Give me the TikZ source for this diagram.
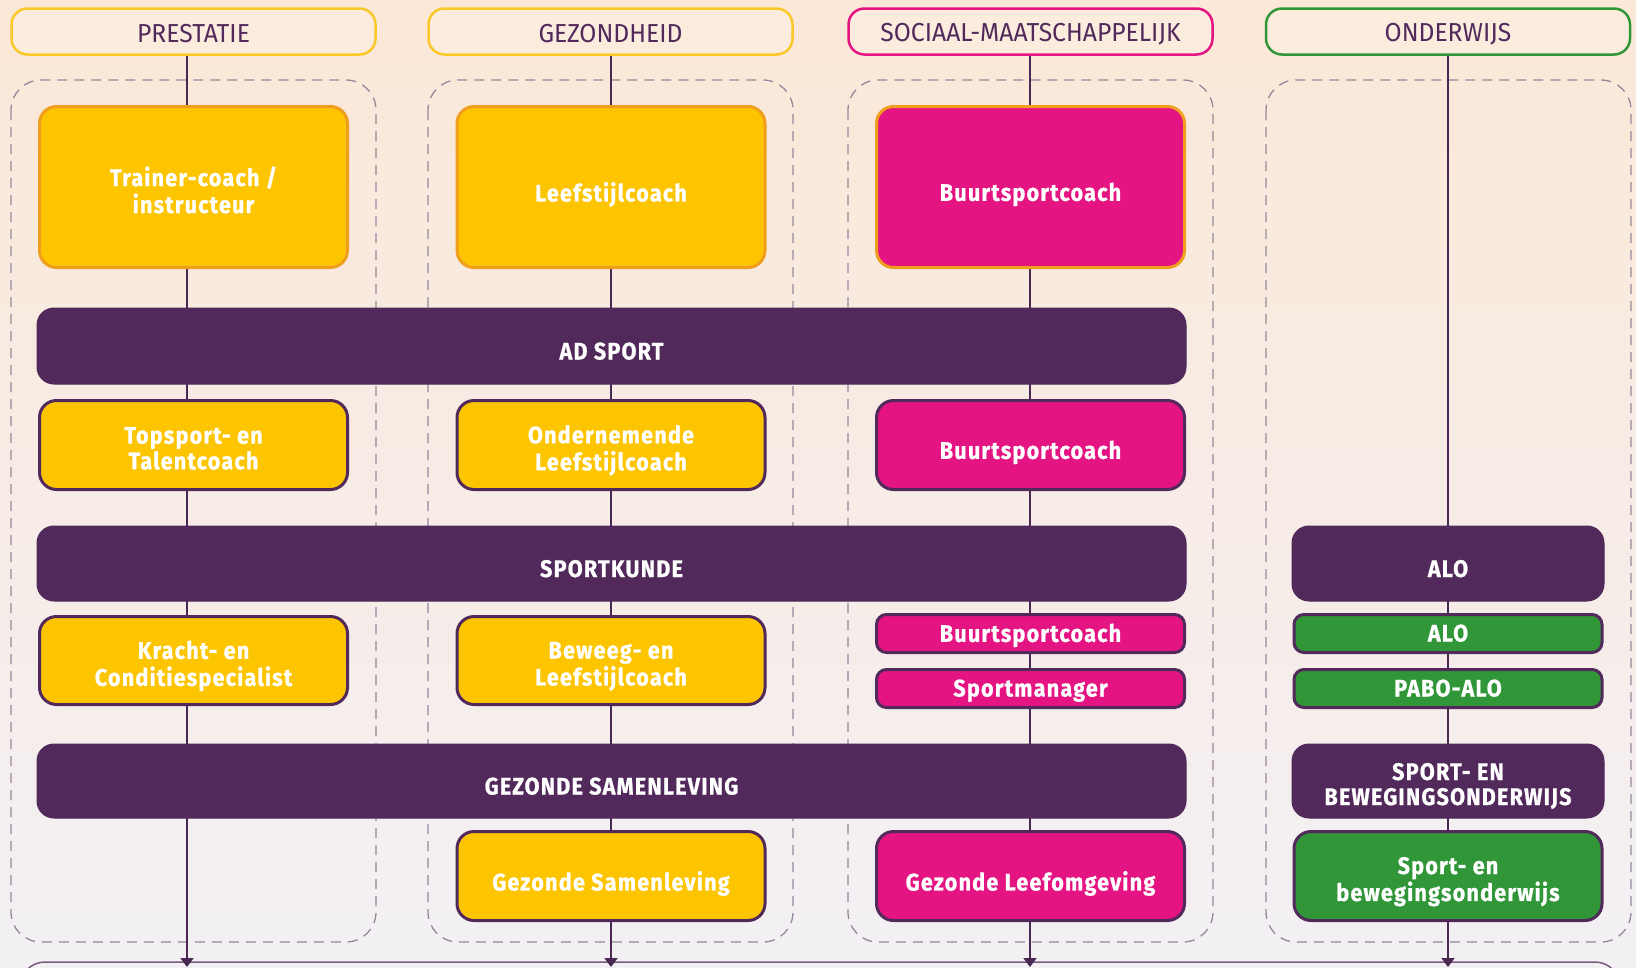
\documentclass[tikz,border=0pt]{standalone}
\usepackage{fontspec}
\usetikzlibrary{arrows.meta}
\newfontfamily\boxfont{Fira Sans}[FakeStretch=0.9,LetterSpace=5,BoldFeatures={FakeBold=0.8}]
\newfontfamily\hdrfont{Fira Sans}[FakeStretch=0.95]
\newcommand\boxtxt[2][17]{\vbox{\kern#1pt\hbox{\begin{tabular}{@{}c@{}}#2\end{tabular}}}}
\newcommand\hdrtxt[1]{\vbox{\kern5pt\hbox{#1}}}
\definecolor{bgtop}{RGB}{251,232,215}
\definecolor{bgbot}{RGB}{243,240,244}
\definecolor{hdrbg}{RGB}{252,236,222}
\definecolor{pur}{RGB}{81,41,90}
\definecolor{linec}{RGB}{74,40,84}
\definecolor{yel}{RGB}{253,196,0}
\definecolor{org}{RGB}{240,158,30}
\definecolor{mag}{RGB}{228,21,130}
\definecolor{grn}{RGB}{48,150,56}
\definecolor{hyel}{RGB}{250,200,40}
\definecolor{dashc}{RGB}{150,135,155}
\definecolor{botc}{RGB}{120,90,125}
\tikzset{
  hdr/.style={draw, line width=2.5pt, rounded corners=16pt, fill=hdrbg,
    minimum width=364, minimum height=46, inner sep=0pt, text=pur,
    font=\hdrfont\fontsize{26}{26}\selectfont},
  dashbox/.style={draw=dashc, line width=1.3pt, dash pattern=on 10pt off 7pt, rounded corners=30pt},
  box/.style={line width=3pt, rounded corners=17pt, minimum width=308, inner sep=0pt,
    text=white, font=\boxfont\bfseries\fontsize{24}{25}\selectfont},
  ybox/.style={box, fill=yel, draw=pur},
  yboxo/.style={box, fill=yel, draw=org},
  mbox/.style={box, fill=mag, draw=pur},
  mboxo/.style={box, fill=mag, draw=org},
  gbox/.style={box, fill=grn, draw=pur},
  smallbox/.style={rounded corners=10pt, minimum height=38},
  bar/.style={box, fill=pur, draw=pur, line width=1pt},
  vline/.style={draw=linec, line width=1.8pt},
  vlinea/.style={vline, -{Triangle[length=9pt,width=13pt]}},
}
\begin{document}
\begin{tikzpicture}[x=1pt,y=-1pt]
\useasboundingbox (0,0) rectangle (1636,967);
\shade[top color=bgtop, bottom color=bgbot] (0,0) rectangle (1636,967);
% dashed column frames
\draw[dashbox] (11,80) rectangle (376,942);
\draw[dashbox] (428,80) rectangle (793,942);
\draw[dashbox] (848,80) rectangle (1213,942);
\draw[dashbox] (1266,80) rectangle (1631,942);
% bottom frame
\draw[draw=botc, line width=1.5pt, rounded corners=25pt] (20,1010) -- (20,962) -- (1620,962) -- (1620,1010);
% headers
\node[hdr, draw=hyel] (h1) at (193.5,31.5) {\hdrtxt{PRESTATIE}};
\node[hdr, draw=hyel] (h2) at (610.5,31.5) {\hdrtxt{GEZONDHEID}};
\node[hdr, draw=mag] (h3) at (1030.5,31.5) {\hdrtxt{SOCIAAL-MAATSCHAPPELIJK}};
\node[hdr, draw=grn] (h4) at (1448,31.5) {\hdrtxt{ONDERWIJS}};
% line end points
\coordinate (e1) at (187,967);
\coordinate (e2) at (611,967);
\coordinate (e3) at (1030,967);
\coordinate (e4) at (1448,967);
\draw[vlinea] (h1.south -| e1) -- (e1);
\draw[vlinea] (h2.south -| e2) -- (e2);
\draw[vlinea] (h3.south -| e3) -- (e3);
\draw[vlinea] (h4.south -| e4) -- (e4);
% row 1
\node[yboxo, minimum height=161] (t1) at (193.5,187) {\boxtxt[13]{Trainer-coach /\\instructeur}};
\node[yboxo, minimum height=161] (t2) at (611,187) {\boxtxt{Leefstijlcoach}};
\node[mboxo, minimum height=161] (t3) at (1030.5,187) {\boxtxt{Buurtsportcoach}};
% AD SPORT
\node[bar, minimum width=1149, minimum height=76] (adsport) at (611.5,346) {\boxtxt{AD SPORT}};
% row 2
\node[ybox, minimum height=89] (r21) at (193.5,445) {\boxtxt[13]{Topsport- en\\Talentcoach}};
\node[ybox, minimum height=89] (r22) at (611,445) {\boxtxt[13]{Ondernemende\\Leefstijlcoach}};
\node[mbox, minimum height=89] (r23) at (1030.5,445) {\boxtxt{Buurtsportcoach}};
% SPORTKUNDE
\node[bar, minimum width=1149, minimum height=75] (sportkunde) at (611.5,563.5) {\boxtxt{SPORTKUNDE}};
\node[bar, minimum width=312, minimum height=75] (alobar) at (1448,563.5) {\boxtxt{ALO}};
% row 3
\node[ybox, minimum height=88] (r31) at (193.5,660.5) {\boxtxt[13]{Kracht- en\\Conditiespecialist}};
\node[ybox, minimum height=88] (r32) at (611,660.5) {\boxtxt[13]{Beweeg- en\\Leefstijlcoach}};
\node[mbox, smallbox] (r33a) at (1030.5,633.5) {\boxtxt[6]{Buurtsportcoach}};
\node[mbox, smallbox] (r33b) at (1030.5,688.5) {\boxtxt[6]{Sportmanager}};
\node[gbox, smallbox] (r34a) at (1448,633.5) {\boxtxt[6]{ALO}};
\node[gbox, smallbox] (r34b) at (1448,688.5) {\boxtxt[6]{PABO-ALO}};
% GEZONDE SAMENLEVING
\node[bar, minimum width=1149, minimum height=74] (gezbar) at (611.5,781) {\boxtxt{GEZONDE SAMENLEVING}};
\node[bar, minimum width=312, minimum height=74] (sbobar) at (1448,781) {\boxtxt[13]{SPORT- EN\\BEWEGINGSONDERWIJS}};
% row 4
\node[ybox, minimum height=89] (r42) at (611,876) {\boxtxt{Gezonde Samenleving}};
\node[mbox, minimum height=89] (r43) at (1030.5,876) {\boxtxt{Gezonde Leefomgeving}};
\node[gbox, minimum height=89] (r44) at (1448,876) {\boxtxt[13]{Sport- en\\bewegingsonderwijs}};
\end{tikzpicture}
\end{document}
